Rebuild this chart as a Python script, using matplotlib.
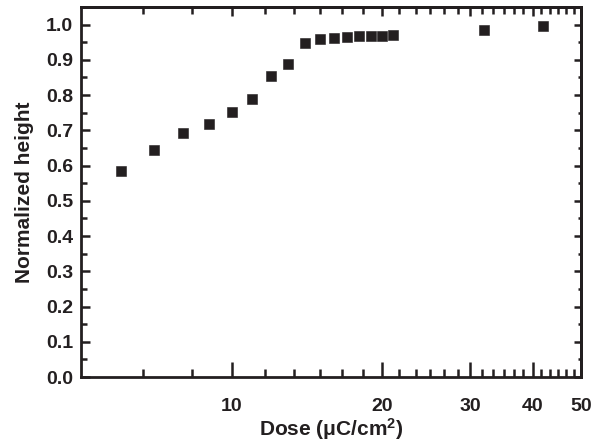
import numpy as np
import matplotlib
matplotlib.use("Agg")
import matplotlib.pyplot as plt
from matplotlib.ticker import FixedLocator, NullFormatter, FixedFormatter

plt.rcParams['font.family'] = ['Liberation Sans', 'DejaVu Sans']
plt.rcParams['font.weight'] = 'bold'
plt.rcParams['mathtext.fontset'] = 'custom'
plt.rcParams['mathtext.rm'] = 'Liberation Sans:bold'
plt.rcParams['mathtext.it'] = 'Liberation Sans:bold'
plt.rcParams['mathtext.bf'] = 'Liberation Sans:bold'

# Exposure dose (uC/cm^2) and normalized resist height
dose = [6.0, 7.0, 8.0, 9.0, 10.0, 11.0, 12.0, 13.0, 14.0, 15.0, 16.0, 17.0,
        18.0, 19.0, 20.0, 21.0, 32.0, 42.0]
height = [0.585, 0.644, 0.692, 0.719, 0.751, 0.790, 0.854, 0.887, 0.947,
          0.960, 0.963, 0.964, 0.969, 0.969, 0.969, 0.970, 0.986, 0.995]

x_major = [10, 20, 30, 40, 50]
x_major_labels = ['10', '20', '30', '40', '50']
y_major = [round(0.1 * i, 1) for i in range(11)]
y_major_labels = ['%.1f' % v for v in y_major]

ink = '#231f20'

fig = plt.figure(figsize=(5.95, 4.45), dpi=100)
ax = fig.add_axes([81 / 595, 68 / 445, 500 / 595, 370 / 445])

ax.plot(dose, height, linestyle='none', marker='s', markersize=7.7,
        color=ink, markeredgecolor=ink, markeredgewidth=0.4)

ax.set_xscale('log')
ax.set_xlim(5, 50)
ax.set_ylim(0, 1.05)

# linear minor ticks every 5/3 between the labelled values
x_minor = [5 + k * 5 / 3 for k in range(1, 27)]
x_minor = [v for v in x_minor if all(abs(v - m) > 1e-6 for m in x_major)]
y_minor = [0.05 + 0.1 * i for i in range(11)]

ax.xaxis.set_major_locator(FixedLocator(x_major))
ax.xaxis.set_major_formatter(FixedFormatter(x_major_labels))
ax.xaxis.set_minor_locator(FixedLocator(x_minor))
ax.xaxis.set_minor_formatter(NullFormatter())
ax.yaxis.set_major_locator(FixedLocator(y_major))
ax.yaxis.set_major_formatter(FixedFormatter(y_major_labels))
ax.yaxis.set_minor_locator(FixedLocator(y_minor))

for s in ax.spines.values():
    s.set_linewidth(2.0)
    s.set_color(ink)

ax.tick_params(axis='x', which='major', direction='in', length=10.5, width=1.8,
               color=ink, labelsize=14, pad=15, labelcolor=ink, top=False)
ax.tick_params(axis='x', which='minor', direction='in', length=6, width=1.8,
               color=ink, top=False)
ax.tick_params(axis='y', which='major', direction='in', length=6.5, width=1.8,
               color=ink, labelsize=14, pad=5.5, labelcolor=ink, right=False)
ax.tick_params(axis='y', which='minor', direction='in', length=4.3, width=1.8,
               color=ink, right=False)

# tick marks along the top and right frame
top = ax.secondary_xaxis('top')
top.xaxis.set_major_locator(FixedLocator(x_major))
top.xaxis.set_minor_locator(FixedLocator(x_minor))
top.xaxis.set_major_formatter(NullFormatter())
top.xaxis.set_minor_formatter(NullFormatter())
top.tick_params(which='major', direction='in', length=6.5, width=1.8, color=ink)
top.tick_params(which='minor', direction='in', length=5, width=1.8, color=ink)
top.spines['top'].set_linewidth(2.0)

right = ax.secondary_yaxis('right')
right.yaxis.set_major_locator(FixedLocator(y_major))
right.yaxis.set_minor_locator(FixedLocator(y_minor))
right.yaxis.set_major_formatter(NullFormatter())
right.yaxis.set_minor_formatter(NullFormatter())
right.tick_params(which='major', direction='in', length=5, width=1.8, color=ink)
right.tick_params(which='minor', direction='in', length=2.5, width=1.8, color=ink)
right.spines['right'].set_linewidth(2.0)

ax.set_xlabel(r'Dose ($\mu$C/cm$^{\mathbf{2}}$)', fontsize=15, fontweight='bold',
              color=ink, labelpad=1)
ax.set_ylabel('Normalized height', fontsize=15, fontweight='bold',
              color=ink, labelpad=9)

fig.savefig('out.png', dpi=100)
